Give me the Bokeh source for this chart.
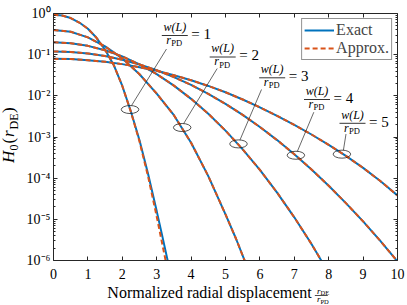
import math
from bokeh.plotting import figure
from bokeh.layouts import row, column
from bokeh.models import (Range1d, FixedTicker, CustomJSTickFormatter, LinearAxis, LogAxis,
                          Label, Legend, LegendItem)
from bokeh.embed import file_html
from bokeh.resources import INLINE

# ---------------- data ----------------
x_w1 = [0, 0.25, 0.5, 0.75, 1.0, 1.25, 1.5, 1.75, 2.0, 2.25, 2.5, 2.75, 3.0, 3.15, 3.3, 3.35]
exact_w1 = [0.933, 0.891, 0.776, 0.603, 0.427, 0.257, 0.1318, 0.0562, 0.01738, 0.00417,
            0.000832, 0.0001259, 1.585e-5, 4.37e-6, 1.175e-6, 7.6e-7]
x_w1_apx = [0, 0.25, 0.5, 0.75, 1.0, 1.25, 1.5, 1.75, 2.0, 2.25, 2.5, 2.75, 3.0, 3.15, 3.3]
approx_w1 = [0.933, 0.891, 0.776, 0.603, 0.427, 0.257, 0.1318, 0.0562, 0.01738, 0.00407,
             0.000776, 0.0001096, 1.175e-5, 2.82e-6, 6.8e-7]

x_w2 = [0, 0.5, 1, 1.5, 2, 2.5, 3, 3.5, 4, 4.5, 5, 5.3, 5.58]
exact_w2 = [0.398, 0.3606, 0.263, 0.1585, 0.0813, 0.0335, 0.01135, 0.00339, 0.000724,
            0.0001122, 1.318e-5, 3.47e-6, 8.9e-7]
approx_w2 = exact_w2

x_w3 = [0, 0.5, 1, 1.5, 2, 2.5, 3, 3.5, 4, 4.5, 5, 5.5, 6, 6.5, 7, 7.5, 7.8]
exact_w3 = [0.1995, 0.1901, 0.1637, 0.1279, 0.0906, 0.0581, 0.0337, 0.01774, 0.00845,
            0.00366, 0.001429, 0.000501, 0.0001585, 4.47e-5, 1.12e-5, 2.51e-6, 9.5e-7]
approx_w3 = exact_w3

x_w45 = [0, 0.5, 1, 1.5, 2, 2.5, 3, 3.5, 4, 4.5, 5, 5.5, 6, 6.5, 7, 7.5, 8, 8.5, 9, 9.5, 10]
exact_w4 = [0.1202, 0.1167, 0.1069, 0.0923, 0.0752, 0.0577, 0.0418, 0.0285, 0.01837, 0.01114,
            0.00638, 0.00344, 0.001754, 0.000841, 0.000381, 0.0001626, 6.55e-5, 2.48e-5,
            8.9e-6, 3.0e-6, 9.5e-7]
approx_w4 = exact_w4
exact_w5 = [0.0794, 0.0780, 0.0736, 0.0671, 0.0589, 0.0497, 0.0405, 0.0316, 0.0240, 0.0174,
            0.0122, 0.00813, 0.00525, 0.00327, 0.00197, 0.00115, 0.000646, 0.000347,
            0.000178, 8.5e-5, 3.8e-5]
approx_w5 = exact_w5

# highlighted points (ellipses) and their ratios
hl_x = [2.225, 3.741, 5.378, 7.047, 8.384]
hl_y = [4.65e-3, 1.70e-3, 6.8e-4, 3.6e-4, 3.83e-4]
ratios = ["1", "2", "3", "4", "5"]

x_ticks = [0, 1, 2, 3, 4, 5, 6, 7, 8, 9, 10]
y_ticks = [1e-6, 1e-5, 1e-4, 1e-3, 1e-2, 1e-1, 1]

# ---------------- layout helpers (page pixel -> data) ----------------
X0, XS = 53.0, 34.4
Y0, YS = 13.0, 247.0 / 6
def dx(px):
    return (px - X0) / XS
def dy(py):
    return 10 ** (-(py - Y0) / YS)
def px_of(x):
    return X0 + XS * x
def py_of(y):
    return Y0 - YS * math.log10(y)

SERIF = "Liberation Serif"
AX = "#262626"
BLUE = "#0072BD"
ORANGE = "#D95319"

p = figure(width=385, height=285, x_range=Range1d(0, 10), y_range=Range1d(1e-6, 1),
           y_axis_type="log", output_backend="svg", toolbar_location=None,
           min_border_left=31, min_border_right=10, min_border_top=13, min_border_bottom=25)
p.grid.visible = False
p.outline_line_color = None
p.background_fill_color = "white"
p.border_fill_color = "white"

minor = [k * 10 ** e for e in range(-6, 0) for k in range(2, 10)]
yt = FixedTicker(ticks=y_ticks, minor_ticks=minor)
xt = FixedTicker(ticks=x_ticks)

sup = CustomJSTickFormatter(code="""
const e = Math.round(Math.log10(tick));
const m = {"-":"\u207b","0":"\u2070","1":"\u00b9","2":"\u00b2","3":"\u00b3","4":"\u2074","5":"\u2075","6":"\u2076","7":"\u2077","8":"\u2078","9":"\u2079"};
return "10" + String(e).split("").map(c => m[c]).join("");
""")
blank = CustomJSTickFormatter(code="return '';")

def style(ax, labels=True):
    ax.axis_line_color = AX
    ax.axis_line_width = 1
    ax.major_tick_line_color = AX
    ax.minor_tick_line_color = AX
    ax.major_tick_in = 4
    ax.major_tick_out = 0
    ax.minor_tick_in = 2
    ax.minor_tick_out = 0
    ax.major_label_text_font = SERIF
    ax.major_label_text_font_size = "14px"
    ax.major_label_text_color = "black"
    if not labels:
        ax.major_label_standoff = 0

p.xaxis.ticker = xt
style(p.xaxis[0])
p.xaxis.major_label_standoff = 8
p.yaxis.ticker = yt
p.yaxis.formatter = sup
style(p.yaxis[0])
p.yaxis.major_label_standoff = 3

top = LinearAxis(ticker=xt, formatter=blank)
style(top, False)
p.add_layout(top, "above")
right = LogAxis(ticker=yt, formatter=blank)
style(right, False)
p.add_layout(right, "right")

# ---------------- curves ----------------
series = [(x_w1, exact_w1, x_w1_apx, approx_w1), (x_w2, exact_w2, x_w2, approx_w2),
          (x_w3, exact_w3, x_w3, approx_w3), (x_w45, exact_w4, x_w45, approx_w4),
          (x_w45, exact_w5, x_w45, approx_w5)]
ex_r = []
for xe, ye, xa, ya in series:
    ex_r.append(p.line(xe, ye, line_color=BLUE, line_width=2))
ap_r = []
for xe, ye, xa, ya in series:
    ap_r.append(p.line(xa, ya, line_color=ORANGE, line_width=2, line_dash="5 3"))

# ---------------- ellipses, leaders, labels ----------------
p.ellipse(x=hl_x, y=hl_y, width=17.5, height=8, width_units="screen", height_units="screen",
          fill_color=None, line_color=AX, line_width=0.8)

cx = [174.3, 222.2, 271.7, 316.5, 352.0]
bar = [35.0, 56.5, 77.3, 99.0, 122.8]
lead = [(166.0, 48.5), (216.7, 68.0), (261.0, 89.0), (313.3, 111.7), (345.5, 133.5)]
x0s, y0s, x1s, y1s = [], [], [], []
for i in range(5):
    ex, ey = px_of(hl_x[i]), py_of(hl_y[i])
    x0s.append(dx(lead[i][0])); y0s.append(dy(lead[i][1]))
    x1s.append(dx(ex + 1.5)); y1s.append(dy(ey - 4))
p.segment(x0=x0s, y0=y0s, x1=x1s, y1=y1s, line_color=AX, line_width=0.7)

bx0 = [dx(c - 13) for c in cx]
bx1 = [dx(c + 13) for c in cx]
by = [dy(b) for b in bar]
p.segment(x0=bx0, y0=by, x1=bx1, y1=by, line_color="black", line_width=0.8)

MID = 0.34  # distance baseline -> middle of text box, in em

def lab(fig, x, y, text, size, style="normal", align="left", angle=0.0):
    fig.add_layout(Label(x=x, y=y, text=text, text_font=SERIF,
                         text_font_size=f"{size}px", text_font_style=style,
                         text_align=align, text_baseline="middle", angle=angle,
                         text_color="black"))

def plab(px, base, text, size, style="normal", align="left"):
    # place in main plot; base = page-pixel baseline
    lab(p, dx(px), dy(base - MID * size), text, size, style, align)

for i in range(5):
    c, b = cx[i], bar[i]
    plab(c, b - 4.5, "w(L)", 12, "italic", "center")
    plab(c - 8.5, b + 8.5, "r", 12, "italic")
    plab(c - 3.5, b + 10.5, "PD", 8.5)
    plab(c + 16.5, b + 3.5, "= " + ratios[i], 15)

# legend
legend = Legend(items=[LegendItem(label="Exact", renderers=[ex_r[0]]),
                       LegendItem(label="Approx.", renderers=[ap_r[0]])],
                location="top_right")
legend.label_text_font = SERIF
legend.label_text_font_size = "16px"
legend.border_line_color = AX
legend.border_line_width = 1
legend.glyph_width = 30
legend.glyph_height = 16
legend.label_height = 16
legend.label_standoff = 2
legend.padding = 2
legend.spacing = 0
legend.margin = 5
p.add_layout(legend)

# ---------------- axis-title strips (coordinates are page pixels) ----------------
def strip(w, h, xr, yr):
    f = figure(width=w, height=h, x_range=Range1d(*xr), y_range=Range1d(*yr),
               output_backend="svg", toolbar_location=None,
               x_axis_location=None, y_axis_location=None,
               min_border_left=0, min_border_right=0, min_border_top=0, min_border_bottom=0)
    f.grid.visible = False
    f.outline_line_color = None
    f.background_fill_color = "white"
    f.border_fill_color = "white"
    return f

xlab = strip(385, 20, (22, 407), (305, 285))
def xl(px, base, text, size, style="normal", align="left"):
    lab(xlab, px, base - MID * size, text, size, style, align)
xl(311, 297.5, "Normalized radial displacement", 16, align="right")
xl(316.8, 293.2, "r", 9, "italic")
xl(320.8, 294.4, "DE", 6.5)
xlab.segment(x0=[314.5], y0=[295.0], x1=[329.0], y1=[295.0], line_color="black", line_width=0.7)
xl(316.8, 301.6, "r", 9, "italic")
xl(320.8, 302.8, "PD", 6.5)

ylab = strip(22, 305, (0, 22), (305, 0))
A = math.pi / 2
def yl(base_x, start_py, text, size, style="normal"):
    lab(ylab, base_x - MID * size, start_py, text, size, style, angle=A)
yl(14.2, 162.5, "H", 17, "italic")
yl(17.2, 150.0, "0", 12)
yl(14.2, 143.0, "(", 17)
yl(14.2, 136.5, "r", 17, "italic")
yl(17.2, 129.0, "DE", 12)
yl(14.2, 112.5, ")", 17)

layout = row(ylab, column(p, xlab))
open("out.html", "w").write(file_html(layout, INLINE))
